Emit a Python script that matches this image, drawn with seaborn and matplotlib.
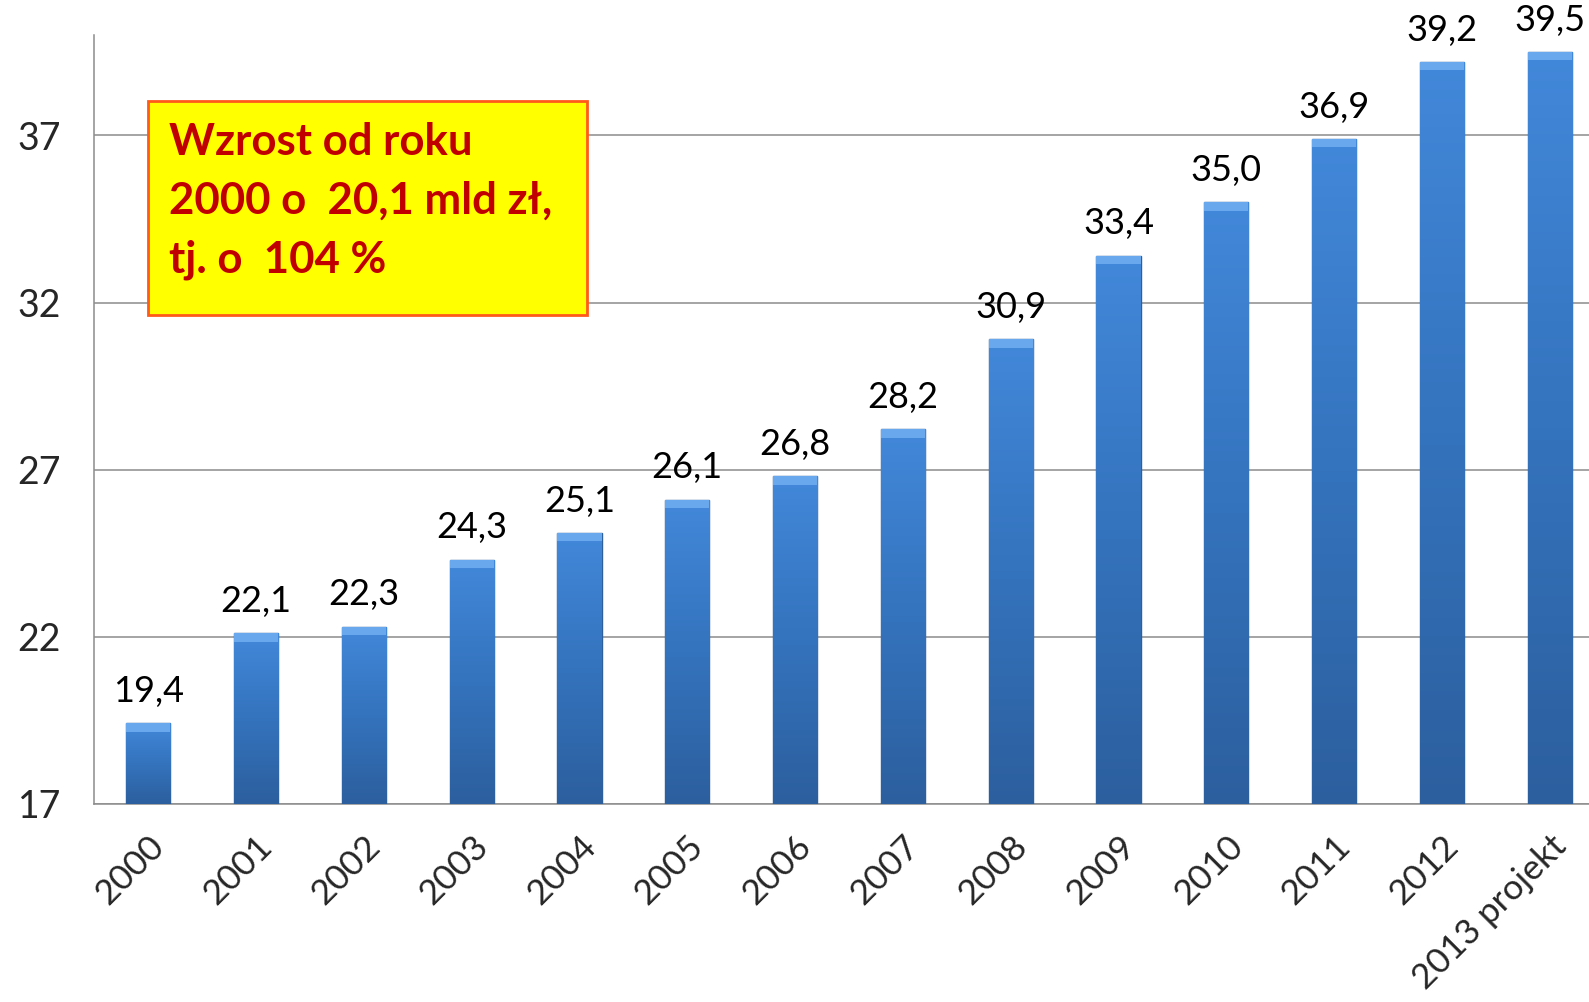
import matplotlib
matplotlib.use("Agg")
import matplotlib.pyplot as plt
import matplotlib.colors as mcolors
from matplotlib.patches import Rectangle
import seaborn as sns
import numpy as np
import pandas as pd

years = ['2000', '2001', '2002', '2003', '2004', '2005', '2006', '2007',
         '2008', '2009', '2010', '2011', '2012', '2013 projekt']
values = [19.4, 22.1, 22.3, 24.3, 25.1, 26.1, 26.8, 28.2,
          30.9, 33.4, 35.0, 36.9, 39.2, 39.5]
y_ticks = [17, 22, 27, 32, 37]
box_lines = ['Wzrost od roku', '2000 o  20,1 mld zł,', 'tj. o  104 %']

df = pd.DataFrame({'rok': years, 'wartosc': values})

sns.set_style("white")
plt.rcParams['font.family'] = ['Lato', 'DejaVu Sans']

fig = plt.figure(figsize=(15.89, 10.02), dpi=100)
ax = fig.add_axes([0.0593, 0.198, 0.95, 0.7668])

sns.barplot(data=df, x='rok', y='wartosc', color='#3b7cca', width=0.41,
            edgecolor='#2d5f9c', linewidth=1, ax=ax, zorder=3)

ax.set_ylim(17, 40)
ax.set_xlim(-0.5, len(years) - 0.5)

# vertical gradient on each bar
cmap = mcolors.LinearSegmentedColormap.from_list(
    'bar', ['#2c5f9e', '#3473bd', '#4288da'])
grad = np.linspace(0, 1, 256).reshape(-1, 1)
for p in ax.patches:
    x0 = p.get_x()
    x1 = x0 + p.get_width()
    top = p.get_y() + p.get_height()
    im = ax.imshow(grad, extent=[x0, x1, 17, top], origin='lower',
                   cmap=cmap, aspect='auto', zorder=3.5)
    im.set_clip_path(p)
    ax.add_patch(Rectangle((x0, top - 0.25), x1 - x0, 0.25,
                           facecolor='#6aa8ee', edgecolor='none', zorder=3.6))
ax.set_xlim(-0.5, len(years) - 0.5)
ax.set_ylim(17, 40)

for i, v in enumerate(values):
    ax.annotate(f"{v:.1f}".replace('.', ','), (i, v), xytext=(0, 11),
                textcoords='offset points', ha='center', va='bottom',
                fontsize=26, color='black')

ax.set_yticks(y_ticks)
ax.set_yticklabels([str(t) for t in y_ticks], fontsize=27)
ax.yaxis.grid(True, color='#8c8c8c', linewidth=1.1, zorder=0)
ax.set_axisbelow(True)

ax.set_xticks(range(len(years)))
ax.set_xticklabels(years, fontsize=25.5, rotation=45, ha='right',
                   va='top', rotation_mode='anchor')
ax.set_xticks(np.arange(len(years) + 1) - 0.5, minor=True)
ax.tick_params(axis='x', which='major', length=0, pad=19)
ax.tick_params(axis='x', which='minor', length=9, width=1, color='#8c8c8c',
               direction='out')
ax.tick_params(axis='y', length=8, width=1, color='#8c8c8c', direction='out',
               pad=16)
ax.set_xlabel('')
ax.set_ylabel('')

for s in ['top', 'right']:
    ax.spines[s].set_visible(False)
for s in ['left', 'bottom']:
    ax.spines[s].set_color('#8c8c8c')
    ax.spines[s].set_linewidth(1.1)

# yellow annotation box
fig.patches.append(Rectangle((0.0931, 0.686), 0.2763, 0.213,
                             transform=fig.transFigure, facecolor='#ffff00',
                             edgecolor='#ff5a1a', linewidth=2, zorder=5))
for k, line in enumerate(box_lines):
    fig.text(0.1065, 0.858 - k * 0.0585, line, fontsize=31.5,
             fontweight='bold', color='#c00000', va='center', ha='left',
             zorder=6)

fig.savefig('out.png', dpi=100)
